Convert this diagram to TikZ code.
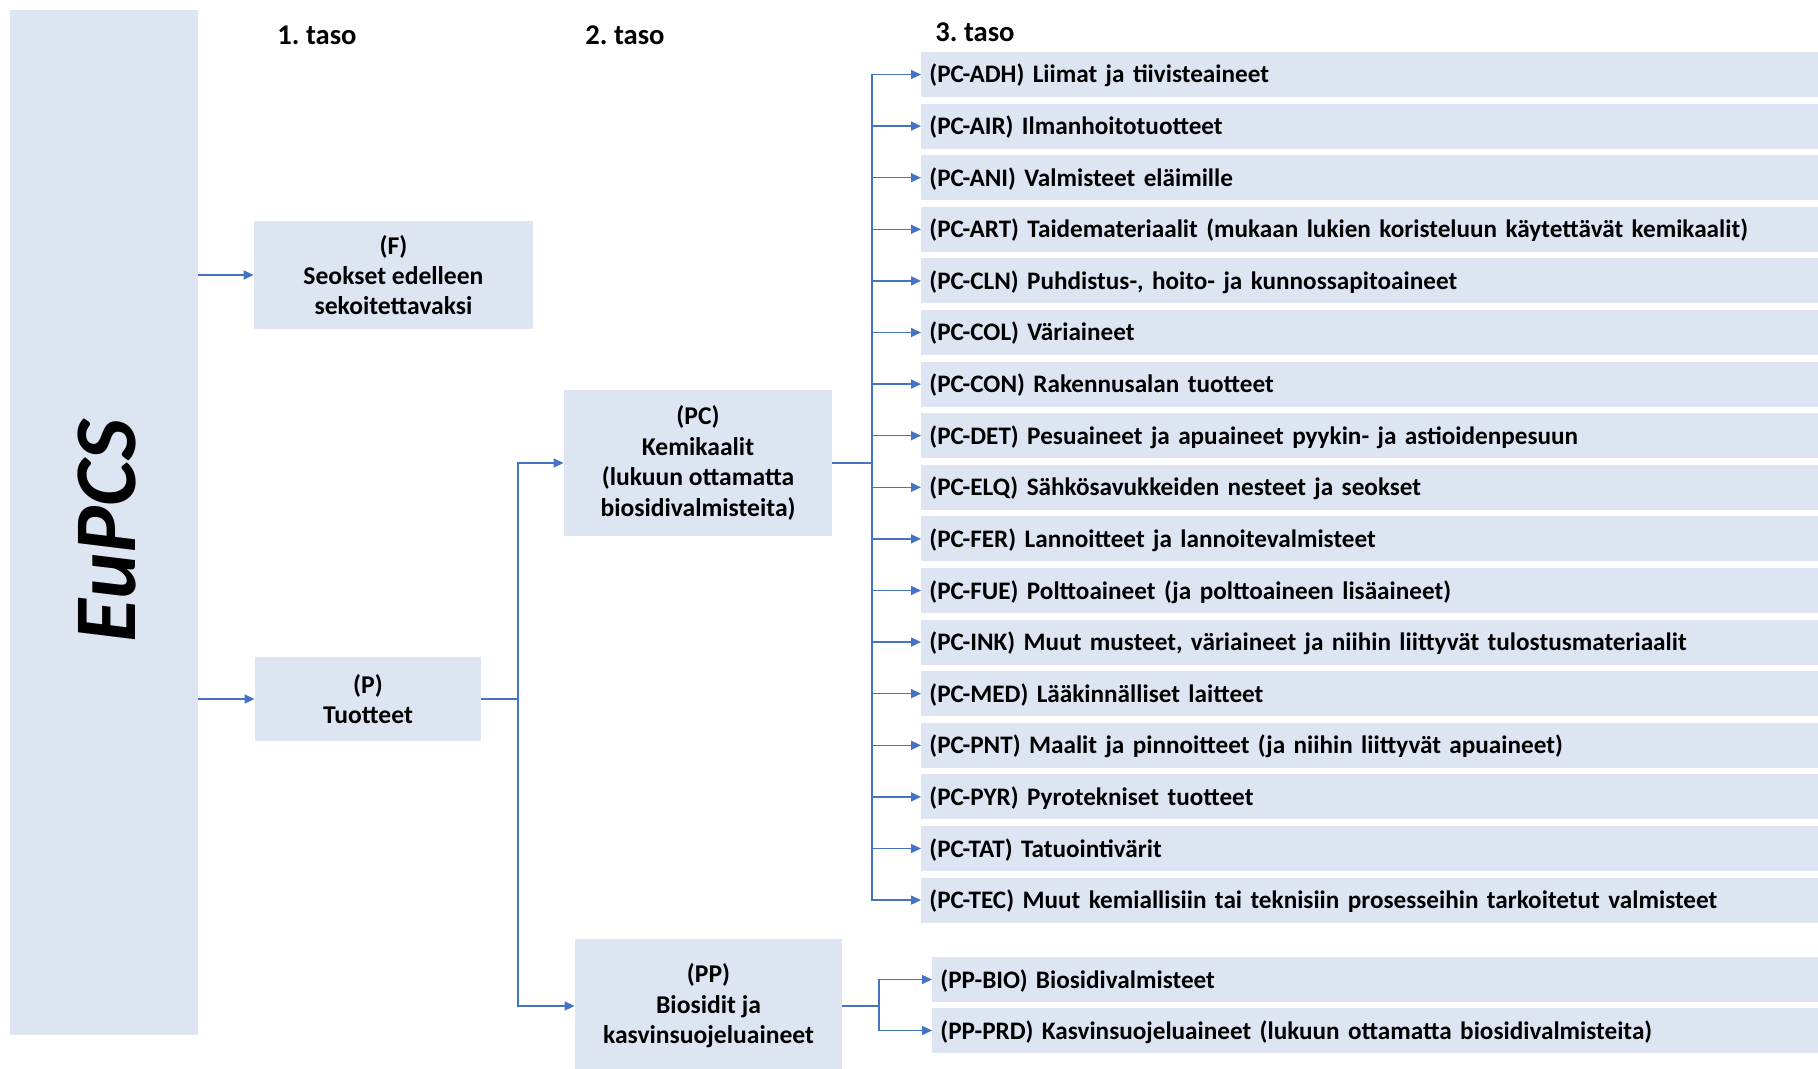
\documentclass[tikz,border=0pt]{standalone}
\usepackage{fontspec}
\setmainfont{Carlito}
\usetikzlibrary{arrows.meta, positioning}

\definecolor{boxfill}{HTML}{DEE5F2}
\definecolor{linkblue}{HTML}{4472C4}

\begin{document}
\frenchspacing
\begin{tikzpicture}[x=0.5pt, y=-0.5pt,
  box/.style = {fill=boxfill, inner sep=0pt, font=\bfseries\fontsize{12.6}{15.2}\selectfont},
  mid/.style = {box, align=center, font=\bfseries\fontsize{12.8}{15.2}\selectfont},
  leaf/.style = {box, anchor=west, minimum height=22.5pt, text height=11pt, text depth=2.5pt, text width=444pt, inner xsep=4pt, align=left},
  line/.style = {draw=linkblue, line width=0.75pt},
  link/.style = {line, -{Triangle[length=5pt, width=4.5pt]}},
  head/.style = {anchor=base west, inner sep=0pt, font=\bfseries\fontsize{14.3}{16}\selectfont}]
  \useasboundingbox (0,0) rectangle (1818,1069);

  % left column
  \node[box, minimum width=94pt, minimum height=512.5pt] (eupcs) at (104,522.5) {};
  \node[rotate=90, font=\bfseries\itshape\fontsize{44}{50}\selectfont] (eupcslabel) at (107,531) {EuPCS};

  % headings
  \node[head] (taso1) at (277,45) {1. taso};
  \node[head] (taso2) at (585,45) {2. taso};
  \node[head] (taso3) at (935,42) {3. taso};

  % level 1 and 2
  \node[mid, minimum width=139.5pt, minimum height=54pt] (f) at (393.5,275) {(F)\\Seokset edelleen\\sekoitettavaksi};
  \node[mid, minimum width=113pt, minimum height=42pt] (p) at (368,699) {(P)\\Tuotteet};
  \node[mid, minimum width=134pt, minimum height=73pt] (pc) at (698,463) {(PC)\\Kemikaalit\\(lukuun ottamatta\\biosidivalmisteita)};
  \node[mid, minimum width=133.5pt, minimum height=67pt] (pp) at (708.5,1006) {(PP)\\Biosidit ja\\kasvinsuojeluaineet};

  % level 3
  \foreach \txt [count=\i] in {
      (PC-ADH) Liimat ja tiivisteaineet,
      (PC-AIR) Ilmanhoitotuotteet,
      (PC-ANI) Valmisteet eläimille,
      (PC-ART) Taidemateriaalit (mukaan lukien koristeluun käytettävät kemikaalit),
      {(PC-CLN) Puhdistus-, hoito- ja kunnossapitoaineet},
      (PC-COL) Väriaineet,
      (PC-CON) Rakennusalan tuotteet,
      (PC-DET) Pesuaineet ja apuaineet pyykin- ja astioidenpesuun,
      (PC-ELQ) Sähkösavukkeiden nesteet ja seokset,
      (PC-FER) Lannoitteet ja lannoitevalmisteet,
      (PC-FUE) Polttoaineet (ja polttoaineen lisäaineet),
      {(PC-INK) Muut musteet, väriaineet ja niihin liittyvät tulostusmateriaalit},
      (PC-MED) Lääkinnälliset laitteet,
      (PC-PNT) Maalit ja pinnoitteet (ja niihin liittyvät apuaineet),
      (PC-PYR) Pyrotekniset tuotteet,
      (PC-TAT) Tatuointivärit,
      (PC-TEC) Muut kemiallisiin tai teknisiin prosesseihin tarkoitetut valmisteet}
    \node[leaf] (c\i) at (921,{74.5+51.6*(\i-1)}) {\txt};
  \node[leaf] (bio) at (932,979.5) {(PP-BIO) Biosidivalmisteet};
  \node[leaf] (prd) at (932,1030.5) {(PP-PRD) Kasvinsuojeluaineet (lukuun ottamatta biosidivalmisteita)};

  % connectors
  \draw[link] (eupcs.east |- f.west) -- (f.west);
  \draw[link] (eupcs.east |- p.west) -- (p.west);

  \coordinate (psplit) at (518,699);
  \draw[line] (p.east) -- (psplit);
  \draw[link] (psplit) |- (pc.west);
  \draw[link] (psplit) |- (pp.west);

  \coordinate (pcsplit) at (872,463);
  \draw[line] (pc.east) -- (pcsplit);
  \foreach \i in {1,...,17}
    \draw[link] (pcsplit) |- (c\i.west);

  \coordinate (ppsplit) at (879,1006);
  \draw[line] (pp.east) -- (ppsplit);
  \draw[link] (ppsplit) |- (bio.west);
  \draw[link] (ppsplit) |- (prd.west);
\end{tikzpicture}
\end{document}
